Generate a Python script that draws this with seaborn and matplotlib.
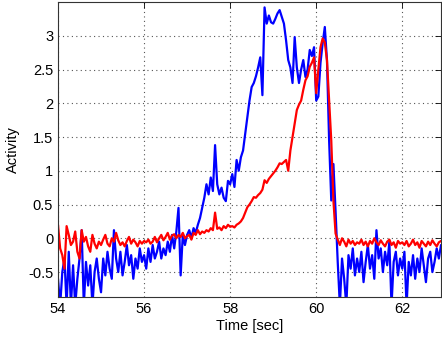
import numpy as np
import pandas as pd
import matplotlib
matplotlib.use("Agg")
import matplotlib.pyplot as plt
import seaborn as sns

t_start = 54.0
t_step = 0.05

red = [
    0.20, -0.15, -0.25, -0.45, 0.18, 0.05, -0.10, -0.05, 0.10, -0.20, -0.30, 0.12, -0.05, 0.02, -0.12, -0.20, 0.05, -0.08, -0.15, -0.05,
    -0.10, -0.02, 0.05, -0.08, -0.12, 0.00, -0.05, 0.08, -0.03, -0.10, -0.06, -0.12, -0.04, 0.02, -0.08, -0.02, -0.06, -0.12, -0.04, -0.08,
    -0.04, -0.06, -0.02, -0.08, -0.05, 0.02, -0.06, 0.00, 0.05, -0.03, 0.02, 0.08, -0.02, 0.04, 0.06, 0.00, 0.05, 0.02, 0.08, 0.00,
    0.03, 0.05, -0.02, 0.08, 0.05, 0.12, 0.06, 0.10, 0.08, 0.12, 0.10, 0.15, 0.12, 0.38, 0.14, 0.16, 0.12, 0.18, 0.15, 0.20,
    0.17, 0.18, 0.16, 0.20, 0.22, 0.25, 0.30, 0.38, 0.46, 0.50, 0.55, 0.61, 0.60, 0.64, 0.67, 0.72, 0.86, 0.82, 0.88, 0.92,
    0.96, 1.00, 1.05, 1.11, 1.10, 1.13, 1.16, 1.00, 1.30, 1.50, 1.70, 1.90, 1.98, 2.04, 2.20, 2.34, 2.40, 2.54, 2.60, 2.68,
    2.15, 2.50, 2.83, 2.96, 2.90, 2.64, 2.04, 1.45, 0.56, 0.07, -0.02, -0.10, 0.00, -0.05, -0.12, -0.02, -0.08, -0.04, -0.10, -0.06,
    -0.08, -0.02, -0.10, -0.05, -0.12, -0.04, -0.08, 0.00, -0.06, -0.10, -0.03, -0.08, -0.12, -0.05, -0.02, -0.10, -0.06, -0.14, -0.04, -0.08,
    -0.06, -0.10, -0.04, -0.12, -0.08, -0.02, -0.10, -0.06, -0.14, -0.04, -0.08, -0.12, -0.05, -0.10, -0.03, -0.08, -0.12, -0.06, -0.04,
]

blue = [
    -0.60, -1.00, -0.50, -0.30, -1.00, -0.20, -1.00, -0.40, -1.00, -0.60, -0.30, 0.12, -1.00, -0.35, -0.70, -0.40, -1.00, -0.50, -0.30, -0.60,
    -0.80, -0.30, -0.55, -0.20, -0.45, -0.60, 0.12, -0.30, -0.50, -0.20, -0.55, -0.35, -0.10, -0.40, -0.25, -0.60, -0.30, -0.45, -0.15, -0.35,
    -0.25, -0.45, -0.15, -0.35, -0.10, -0.30, -0.20, -0.05, -0.30, -0.15, -0.25, -0.05, -0.20, 0.05, -0.15, 0.10, 0.45, -0.55, 0.05, -0.10,
    0.05, 0.12, 0.00, 0.15, 0.08, 0.20, 0.30, 0.45, 0.60, 0.80, 0.65, 0.90, 0.70, 1.38, 0.80, 0.65, 0.75, 0.60, 0.55, 0.85,
    0.80, 0.95, 0.76, 1.16, 1.00, 1.20, 1.30, 1.55, 1.80, 2.04, 2.24, 2.30, 2.40, 2.53, 2.68, 2.12, 3.42, 3.18, 3.30, 3.20,
    3.18, 3.25, 3.33, 3.38, 3.28, 3.18, 2.93, 2.64, 2.53, 2.30, 2.98, 2.53, 2.30, 2.50, 2.64, 2.39, 2.50, 2.79, 2.70, 2.83,
    2.04, 2.10, 2.60, 2.89, 3.13, 2.64, 1.45, 0.56, 1.10, 0.40, -0.35, -1.00, -0.30, -0.60, -1.00, -0.25, -0.45, -0.15, -0.55, -0.30,
    -0.50, -0.20, -0.65, -0.35, -0.10, -0.45, -0.25, -0.60, 0.12, -0.30, -0.15, -0.50, -0.20, -0.40, -0.05, -1.00, -0.35, -0.20, -0.55, -0.30,
    -0.45, -0.20, -1.00, -0.35, -0.55, -0.25, -0.60, -0.30, -0.50, -0.15, -0.40, -0.65, -0.30, -0.20, -0.50, -0.35, -0.15, -0.30, -0.10,
]

x_ticks = [54, 56, 58, 60, 62]
y_ticks = [-0.5, 0, 0.5, 1, 1.5, 2, 2.5, 3]
y_tick_labels = ["-0.5", "0", "0.5", "1", "1.5", "2", "2.5", "3"]

time = np.round(t_start + t_step * np.arange(len(red)), 2)
df = pd.DataFrame({
    "time": np.concatenate([time, time]),
    "activity": np.concatenate([blue, red]),
    "series": ["blue"] * len(blue) + ["red"] * len(red),
})

sns.set_style("white")
plt.rcParams["font.family"] = ["Liberation Sans", "DejaVu Sans"]

fig = plt.figure(figsize=(4.42, 3.41), dpi=100)
ax = fig.add_axes([58 / 442, 44 / 341, 383 / 442, 295 / 341])

sns.lineplot(data=df, x="time", y="activity", hue="series",
             palette={"blue": "#0000ff", "red": "#ff0000"},
             hue_order=["blue", "red"], linewidth=1.6, legend=False, ax=ax,
             estimator=None, sort=False)

ax.set_xlim(54, 62.9)
ax.set_ylim(-0.87, 3.5)
ax.set_xticks(x_ticks)
ax.set_yticks(y_ticks)
ax.set_yticklabels(y_tick_labels)
ax.grid(True, linestyle=(0, (1, 3)), color="#555555", linewidth=0.8)
ax.tick_params(direction="in", length=4, labelsize=10.5, colors="black",
               top=True, right=True, width=0.6)
for s in ax.spines.values():
    s.set_color("#333333")
    s.set_linewidth(0.8)
ax.set_xlabel("Time [sec]", fontsize=10.5, labelpad=2, color="black")
ax.set_ylabel("Activity", fontsize=10.5, labelpad=6, color="black")

fig.savefig("out.png", dpi=100)
